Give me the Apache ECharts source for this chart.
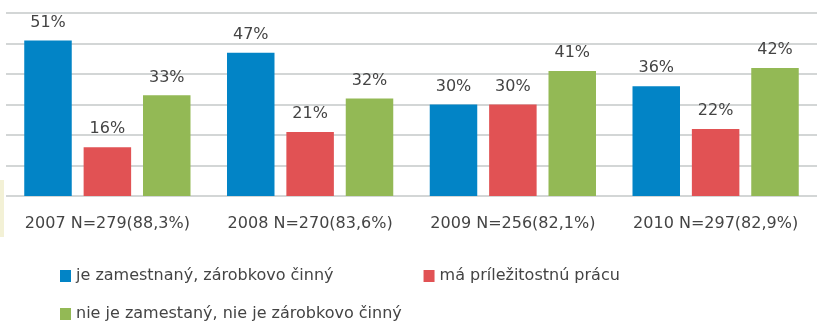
<!DOCTYPE html>
<html>
<head>
<meta charset="utf-8">
<script src="https://cdn.jsdelivr.net/npm/echarts@6/dist/echarts.min.js"></script>
<style>
  html, body { margin: 0; padding: 0; background: #fff; }
  #chart { width: 817px; height: 321px; }
</style>
</head>
<body>
<div id="chart"></div>
<script>
// Survey groups by year with sample size
const categories = [
  '2007 N=279(88,3%)',
  '2008 N=270(83,6%)',
  '2009 N=256(82,1%)',
  '2010 N=297(82,9%)'
];
const seriesNames = [
  'je zamestnaný, zárobkovo činný',
  'má príležitostnú prácu',
  'nie je zamestaný, nie je zárobkovo činný'
];
const employed = [51, 47, 30, 36];
const occasional = [16, 21, 30, 22];
const notEmployed = [33, 32, 41, 42];

const colors = ['#0284C6', '#E15254', '#93B955'];
const textColor = '#444444';
const font = '"DejaVu Sans", sans-serif';

function barSeries(name, data, color) {
  return {
    name: name,
    type: 'bar',
    data: data,
    barGap: '25%',
    barCategoryGap: '18%',
    itemStyle: { color: color },
    label: {
      show: true,
      position: 'top',
      distance: 10,
      formatter: '{c}%',
      color: textColor,
      fontSize: 16,
      fontFamily: font
    }
  };
}

const chart = echarts.init(document.getElementById('chart'));
chart.setOption({
  animation: false,
  backgroundColor: '#ffffff',
  grid: { left: 6, right: -6, top: 13, bottom: 125, containLabel: false },
  xAxis: {
    type: 'category',
    data: categories,
    axisLine: { show: false },
    axisTick: { show: false },
    axisLabel: {
      interval: 0,
      hideOverlap: false,
      color: textColor,
      fontSize: 16,
      fontFamily: font,
      margin: 20
    }
  },
  yAxis: {
    type: 'value',
    min: 0,
    max: 60,
    interval: 10,
    axisLine: { show: false },
    axisTick: { show: false },
    axisLabel: { show: false },
    splitLine: { lineStyle: { color: '#C4C8C8', width: 1.5 } }
  },
  legend: [
    {
      data: [seriesNames[0], seriesNames[1]],
      left: 55,
      top: 263,
      itemWidth: 11,
      itemHeight: 12,
      itemGap: 90,
      icon: 'rect',
      textStyle: { color: textColor, fontSize: 16, fontFamily: font, padding: [0, 0, 0, 0] }
    },
    {
      data: [seriesNames[2]],
      left: 55,
      top: 301,
      itemWidth: 11,
      itemHeight: 12,
      icon: 'rect',
      textStyle: { color: textColor, fontSize: 16, fontFamily: font, padding: [0, 0, 0, 0] }
    }
  ],
  graphic: [
    {
      type: 'rect',
      left: 0,
      top: 180,
      shape: { width: 4, height: 57 },
      style: { fill: '#F3F1D6' },
      z: -1
    }
  ],
  series: [
    barSeries(seriesNames[0], employed, colors[0]),
    barSeries(seriesNames[1], occasional, colors[1]),
    barSeries(seriesNames[2], notEmployed, colors[2])
  ]
});
</script>
</body>
</html>
